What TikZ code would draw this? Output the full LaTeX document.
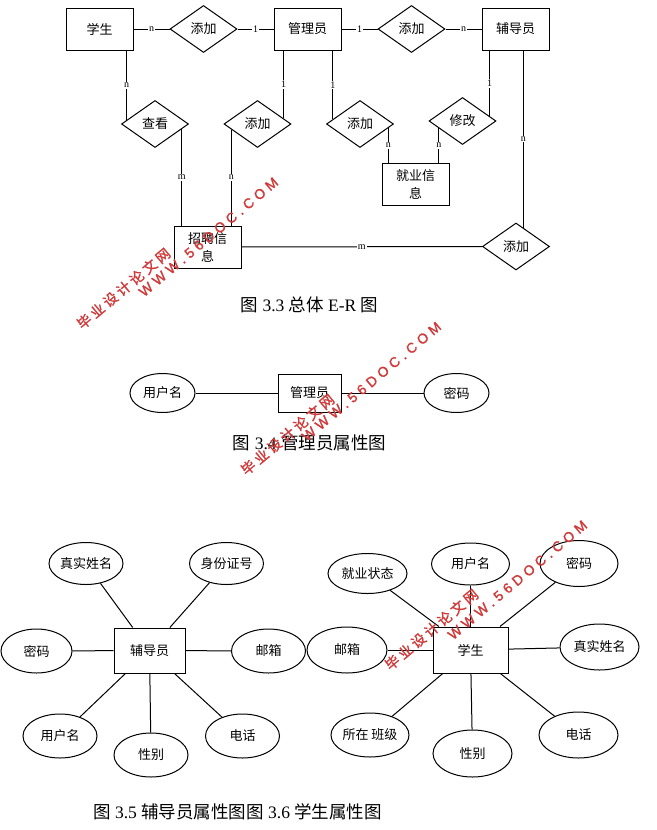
\documentclass[tikz,border=0pt]{standalone}
\usepackage{fontspec}
\setmainfont{Liberation Serif}
\newfontfamily\cjk{Noto Sans CJK SC}
\newfontfamily\wmfont[LetterSpace=30, FakeBold=1.6]{Liberation Sans}
\newfontfamily\wmcjk[LetterSpace=22, FakeBold=1.6]{Noto Sans CJK SC}
\usetikzlibrary{shapes.geometric, positioning}
\definecolor{wmred}{RGB}{208,58,58}

\begin{document}
\begin{tikzpicture}[
    x=1pt, y=-1pt, line width=1pt,
    entity/.style={draw, fill=white, minimum width=67pt, minimum height=42pt,
        inner sep=1pt, align=center, font=\cjk\fontsize{13}{18}\selectfont},
    relation/.style={draw, diamond, fill=white, minimum width=67pt,
        minimum height=47pt, inner sep=0pt, font=\cjk\fontsize{13}{15}\selectfont},
    attrib/.style={draw, ellipse, fill=white, minimum width=74pt,
        minimum height=42pt, inner sep=0pt, font=\cjk\fontsize{13}{15}\selectfont},
    card/.style={fill=white, inner sep=1pt, font=\fontsize{10}{10}\selectfont},
    caption/.style={font=\fontsize{17.5}{20}\selectfont},
    wmurl/.style={text=wmred, rotate=40, font=\wmfont\fontsize{14}{14}\selectfont},
    wmcn/.style={text=wmred, rotate=40, font=\wmcjk\fontsize{14}{14}\selectfont}
  ]
  \useasboundingbox (0,0) rectangle (656,830);

  % overall E-R
  \node[entity] (stu) at (99.5,29) {学生};
  \node[relation] (addA) at (203.5,29) {添加};
  \node[entity] (adm) at (307.5,29) {管理员};
  \node[relation] (addB) at (411.5,29) {添加};
  \node[entity] (fdy) at (515.5,29) {辅导员};
  \node[relation] (look) at (155,124) {查看};
  \node[relation] (addC) at (257.5,124) {添加};
  \node[relation] (addD) at (360,124) {添加};
  \node[relation] (edit) at (462.5,121) {修改};
  \node[entity] (jobinfo) at (415.5,184) {就业信\\息};
  \node[entity] (hireinfo) at (207.5,247) {招聘信\\息};
  \node[relation] (addE) at (516,246.5) {添加};

  \draw (stu) -- node[card] {n} (addA);
  \draw (addA) -- node[card] {1} (adm);
  \draw (adm) -- node[card] {1} (addB);
  \draw (addB) -- node[card] {n} (fdy);
  \draw (stu.south -| look.172) -- node[card] {n} (look.172);
  \draw (look.-11) -- node[card] {m} (look.-11 |- hireinfo.north);
  \draw (adm.south -| addC.12) -- node[card] {1} (addC.12);
  \draw (addC.192) -- node[card] {n} (addC.192 |- hireinfo.north);
  \draw (adm.south -| addD.170) -- node[card] {1} (addD.170);
  \draw (addD.-8) -- node[card] {n} (addD.-8 |- jobinfo.north);
  \draw (fdy.south -| edit.10) -- node[card] {1} (edit.10);
  \draw (edit.197) -- node[card] {n} (edit.197 |- jobinfo.north);
  \draw (fdy.south -| addE.69) -- node[card] {n} (addE.69);
  \draw (hireinfo) -- node[card] {m} (addE);
  \node[caption] (capA) at (309.5,305) {{\cjk 图} 3.3 {\cjk 总体} E-R {\cjk 图}};

  % admin attributes
  \node[attrib, minimum width=65pt, minimum height=39pt] (mUser) at (162.5,393) {用户名};
  \node[entity, minimum width=63pt, minimum height=38pt] (mAdm) at (309.5,393) {管理员};
  \node[attrib, minimum width=65pt, minimum height=39pt] (mPwd) at (456.5,393) {密码};
  \draw (mUser) -- (mAdm);
  \draw (mAdm) -- (mPwd);
  \node[caption] (capB) at (309.5,443) {{\cjk 图} 3.4 {\cjk 管理员属性图}};

  % counsellor attributes
  \node[entity, minimum width=71pt, minimum height=45pt] (cFdy) at (149.5,650.5) {辅导员};
  \node[attrib] (cName) at (86,563.5) {真实姓名};
  \node[attrib] (cId) at (226.5,563.5) {身份证号};
  \node[attrib, minimum width=71pt, minimum height=44pt] (cPwd) at (36.5,651) {密码};
  \node[attrib, minimum height=44pt] (cMail) at (268.5,651) {邮箱};
  \node[attrib, minimum height=44pt] (cUser) at (60,736) {用户名};
  \node[attrib, minimum height=44pt] (cSex) at (151,755) {性别};
  \node[attrib, minimum height=44pt] (cTel) at (242.5,736) {电话};
  \foreach \a in {cName, cId, cPwd, cMail, cUser, cSex, cTel}
    \draw (cFdy) -- (\a);

  % student attributes
  \node[entity, minimum width=75pt, minimum height=46pt] (sStu) at (470.5,650) {学生};
  \node[attrib, minimum width=79pt, minimum height=40pt] (sJob) at (367.5,573.5) {就业状态};
  \node[attrib, minimum width=78pt, minimum height=42pt] (sUser) at (470.5,564) {用户名};
  \node[attrib, minimum width=78pt, minimum height=46pt] (sPwd) at (579,563.5) {密码};
  \node[attrib, minimum width=80pt, minimum height=46pt] (sMail) at (347,650) {邮箱};
  \node[attrib, minimum width=79pt, minimum height=46pt] (sName) at (599.5,647) {真实姓名};
  \node[attrib, minimum width=78pt, minimum height=44pt] (sClass) at (370,735) {所在 班级};
  \node[attrib, minimum width=79pt, minimum height=47pt] (sSex) at (472.5,753.5) {性别};
  \node[attrib, minimum width=79pt, minimum height=46pt] (sTel) at (578.5,735) {电话};
  \foreach \a in {sJob, sUser, sPwd, sMail, sName, sClass, sSex, sTel}
    \draw (sStu) -- (\a);

  \node[caption] (capC) at (237.5,812)
    {{\cjk 图} 3.5 {\cjk 辅导员属性图图} 3.6 {\cjk 学生属性图}};

  % watermarks
  \node[wmurl] (wmA) at (208.5,237) {WWW.56DOC.COM};
  \node[wmcn] (wmAcn) at (123.5,288.5) {毕业设计论文网};
  \node[wmurl] (wmB) at (371.5,381.5) {WWW.56DOC.COM};
  \node[wmcn] (wmBcn) at (287.5,434.5) {毕业设计论文网};
  \node[wmurl] (wmC) at (517.5,580) {WWW.56DOC.COM};
  \node[wmcn] (wmCcn) at (431.5,629.5) {毕业设计论文网};
\end{tikzpicture}
\end{document}
